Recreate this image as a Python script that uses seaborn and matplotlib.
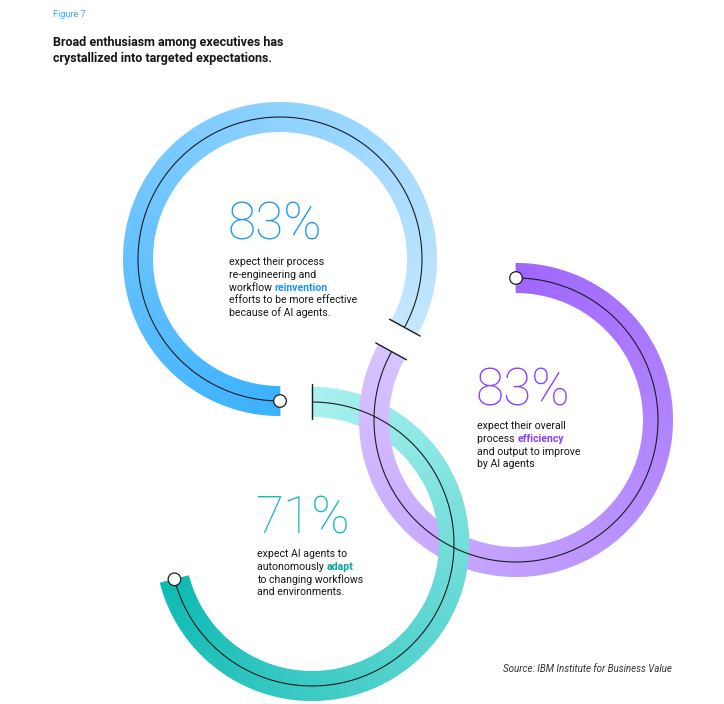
import numpy as np
import matplotlib
matplotlib.use("Agg")
import matplotlib.pyplot as plt
from matplotlib.patches import Wedge, Circle
import seaborn as sns

# ---- chart data ----
pct_values = [83, 83, 71]
pct_labels = ["83%", "83%", "71%"]
desc_before = [
    ["expect their process", "re-engineering and", "workflow "],
    ["expect their overall", "process "],
    ["expect AI agents to", "autonomously "],
]
highlight_words = ["reinvention", "efficiency", "adapt"]
desc_after = [
    ["efforts to be more effective", "because of AI agents."],
    ["and output to improve", "by AI agents"],
    ["to changing workflows", "and environments."],
]
title_lines = ["Broad enthusiasm among executives has",
               "crystallized into targeted expectations."]
figure_label = "Figure 7"
source_note = "Source: IBM Institute for Business Value"

# ---- layout / style (pixel space, y measured from the top) ----
W, H = 724, 704
centers_px = [(280, 259), (516, 420), (312, 544)]
start_deg = [-90, 90, 194.4]   # where the white dot sits
direction = [-1, -1, 1]        # -1 clockwise, +1 counter-clockwise
r_out, band, r_line = 157, 30, 142
grad_colors = [("#3bb1ff", "#c4e7ff"), ("#a067ff", "#d7c3ff"), ("#0fbab3", "#a9f1ef")]
num_colors = ["#1d97ee", "#8a3ffc", "#12bab5"]
hl_colors = ["#1f96f2", "#8a3ffc", "#07a6a2"]
num_pos_px = [(229, 240), (477, 405), (257, 533)]
body_top_px = [265, 429, 557]
line_step = 12.8

sns.set_theme(style="white")
plt.rcParams["font.family"] = ["Roboto", "DejaVu Sans"]

fig = plt.figure(figsize=(W / 100, H / 100), dpi=100)
ax = fig.add_axes([0, 0, 1, 1])
ax.set_xlim(0, W)
ax.set_ylim(0, H)
ax.set_aspect("equal")
ax.axis("off")


def yy(y_px):
    return H - y_px


def draw_band(i, zorder, keep=None, n=260):
    cx, cy = centers_px[i][0], yy(centers_px[i][1])
    sweep = 360 * pct_values[i] / 100
    cols = sns.blend_palette(list(grad_colors[i]), n_colors=n)
    for k in range(n):
        a0 = start_deg[i] + direction[i] * sweep * k / n
        a1 = start_deg[i] + direction[i] * sweep * (k + 1) / n
        lo, hi = min(a0, a1), max(a0, a1)
        if keep is not None:
            mid = ((lo + hi) / 2 + 180) % 360 - 180
            if not (keep[0] <= mid <= keep[1]):
                continue
        ax.add_patch(Wedge((cx, cy), r_out, lo - 0.15, hi + 0.15, width=band,
                           facecolor=cols[k], edgecolor="none", zorder=zorder))


# bands: purple passes over teal at the top crossing, teal over purple at the bottom one
draw_band(0, 1)
draw_band(2, 1)
draw_band(1, 2)
draw_band(2, 3, keep=(-40, 40))

# guide lines, end ticks and start dots
for i in range(3):
    cx, cy = centers_px[i][0], yy(centers_px[i][1])
    sweep = 360 * pct_values[i] / 100
    th = np.radians(start_deg[i] + direction[i] * np.linspace(0, sweep, 400))
    ax.plot(cx + r_line * np.cos(th), cy + r_line * np.sin(th),
            color="#1c1c1c", lw=0.8, zorder=5, solid_capstyle="butt")
    te = th[-1]
    ax.plot([cx + 125 * np.cos(te), cx + 160 * np.cos(te)],
            [cy + 125 * np.sin(te), cy + 160 * np.sin(te)],
            color="#1c1c1c", lw=1.0, zorder=5)
    ts = th[0]
    ax.add_patch(Circle((cx + r_line * np.cos(ts), cy + r_line * np.sin(ts)), 6.3,
                        facecolor="white", edgecolor="#1c1c1c", lw=0.9, zorder=6))

# big numbers and descriptions
for i in range(3):
    x, yb = num_pos_px[i]
    ax.text(x - 2, yy(yb), pct_labels[i], fontsize=37, color=num_colors[i],
            fontweight="light", va="baseline", ha="left", zorder=7)
    y = body_top_px[i]
    last = None
    for line in desc_before[i]:
        last = ax.text(x, yy(y), line, fontsize=7.6, color="#161616",
                       va="baseline", ha="left", zorder=7)
        y += line_step
    ax.annotate(highlight_words[i], xy=(1, 0), xycoords=last, va="bottom", ha="left",
                fontsize=7.6, fontweight="bold", color=hl_colors[i], zorder=7)
    for line in desc_after[i]:
        ax.text(x, yy(y), line, fontsize=7.6, color="#161616",
                va="baseline", ha="left", zorder=7)
        y += line_step

# headings and source
ax.text(53, yy(17), figure_label, fontsize=6.6, color="#33a8ff", va="baseline")
for j, t in enumerate(title_lines):
    ax.text(53, yy(46 + 16 * j), t, fontsize=9.0, fontweight="bold",
            color="#161616", va="baseline")
ax.text(672, yy(672), source_note, fontsize=7.0, fontstyle="italic",
        color="#333333", ha="right", va="baseline")

fig.savefig("out.png", dpi=100, facecolor="white")
